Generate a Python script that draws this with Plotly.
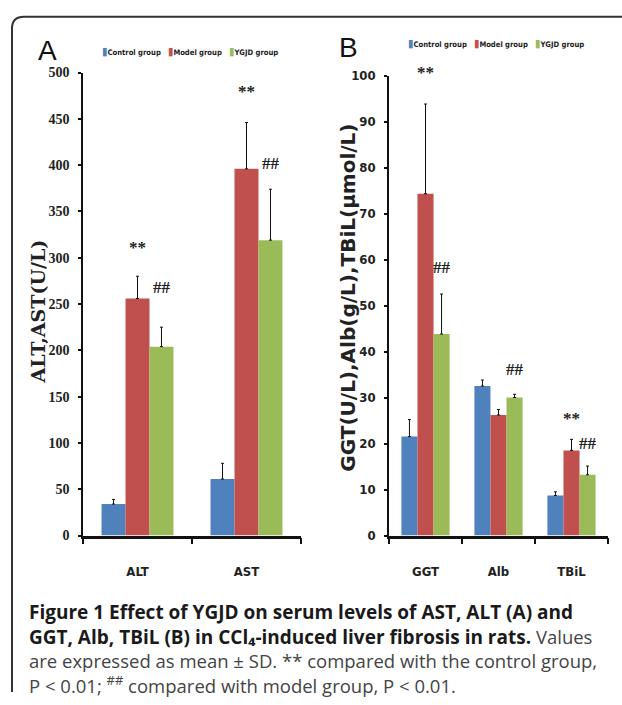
import plotly.graph_objects as go

W, H = 622, 705

# ---------------- data ----------------
groups = ["Control group", "Model group", "YGJD group"]
colors = ["#4F81BD", "#C0504D", "#9BBB59"]

cats_a = ["ALT", "AST"]
vals_a = {
    "Control group": [34, 61],
    "Model group": [256, 396],
    "YGJD group": [204, 319],
}
err_a = {
    "Control group": [5, 17],
    "Model group": [24, 50],
    "YGJD group": [21, 55],
}

cats_b = ["GGT", "Alb", "TBiL"]
vals_b = {
    "Control group": [21.5, 32.5, 8.7],
    "Model group": [74.3, 26.2, 18.5],
    "YGJD group": [43.8, 30.0, 13.2],
}
err_b = {
    "Control group": [3.7, 1.3, 0.8],
    "Model group": [19.5, 1.2, 2.4],
    "YGJD group": [8.7, 0.7, 1.9],
}

ticks_a = list(range(0, 501, 50))
ticks_b = list(range(0, 101, 10))

# significance marks: (panel, category, group, label)
sig_marks = [
    ("a", "ALT", "Model group", "**"),
    ("a", "ALT", "YGJD group", "##"),
    ("a", "AST", "Model group", "**"),
    ("a", "AST", "YGJD group", "##"),
    ("b", "GGT", "Model group", "**"),
    ("b", "GGT", "YGJD group", "##"),
    ("b", "Alb", "YGJD group", "##"),
    ("b", "TBiL", "Model group", "**"),
    ("b", "TBiL", "YGJD group", "##"),
]
# pixel lift of each mark above its error bar (style only)
sig_lift = [29, 40, 31, 26, 32, 27, 25, 21, 23]


def px(x):
    return x / W


def py(y):
    return 1 - y / H


fig = go.Figure()

for g, c in zip(groups, colors):
    fig.add_trace(go.Bar(
        x=cats_a, y=vals_a[g], name=g, marker_color=c, marker_line_width=0,
        error_y=dict(type="data", array=err_a[g], arrayminus=[0] * len(cats_a),
                     symmetric=False, color="#111", thickness=1, width=1.5),
        xaxis="x", yaxis="y", showlegend=False,
    ))
    fig.add_trace(go.Bar(
        x=cats_b, y=vals_b[g], name=g, marker_color=c, marker_line_width=0,
        error_y=dict(type="data", array=err_b[g], arrayminus=[0] * len(cats_b),
                     symmetric=False, color="#111", thickness=1, width=1.5),
        xaxis="x2", yaxis="y2", showlegend=False,
    ))

tick_serif = dict(family="Liberation Serif", size=14, color="#222", weight="bold")
tick_sans = dict(family="DejaVu Sans Condensed, Liberation Sans",
                 size=13, color="#222", weight="bold")

common_x = dict(type="category", showline=True, linecolor="#111", linewidth=2.5,
                ticks="outside", tickson="boundaries", ticklen=6, tickwidth=1.5,
                tickcolor="#111", showgrid=False, zeroline=False,
                ticklabelstandoff=22)
common_y = dict(showline=True, linecolor="#111", linewidth=1.5, ticks="outside",
                ticklen=3, tickwidth=2, tickcolor="#111", showgrid=False,
                zeroline=False, ticklabelstandoff=6)

fig.update_layout(
    width=W, height=H, margin=dict(l=0, r=0, t=0, b=0),
    paper_bgcolor="white", plot_bgcolor="white",
    barmode="group", bargap=0.34, bargroupgap=0,
    xaxis=dict(domain=[px(83), px(301)], anchor="y", tickfont=tick_sans, **common_x),
    yaxis=dict(domain=[py(540), py(67)], anchor="x", range=[0, 500],
               tickvals=ticks_a, tickfont=tick_serif, **common_y),
    xaxis2=dict(domain=[px(389), px(608)], anchor="y2", tickfont=tick_sans, **common_x),
    yaxis2=dict(domain=[py(540), py(70)], anchor="x2", range=[0, 100],
                tickvals=ticks_b, tickfont=tick_sans, **common_y),
)

ann = []
# significance annotations
gi = {g: i for i, g in enumerate(groups)}
for (panel, cat, g, lab), lift in zip(sig_marks, sig_lift):
    if panel == "a":
        cats, vals, errs, xr, yr, bw = cats_a, vals_a, err_a, "x", "y", 24
    else:
        cats, vals, errs, xr, yr, bw = cats_b, vals_b, err_b, "x2", "y2", 16.3
    k = cats.index(cat)
    top = vals[g][k] + errs[g][k]
    ann.append(dict(x=cat, y=top, xref=xr, yref=yr, text=lab, showarrow=False,
                    xshift=(gi[g] - 1) * bw, yshift=lift,
                    xanchor="center", yanchor="middle",
                    font=dict(family="Liberation Serif", size=17, color="#222",
                              weight="bold")))

# panel letters
ann.append(dict(x=px(47), y=py(44), xref="paper", yref="paper", text="A",
                xanchor="center", yanchor="middle", showarrow=False,
                font=dict(family="Liberation Sans", size=28, color="#111")))
ann.append(dict(x=px(349), y=py(41), xref="paper", yref="paper", text="B",
                xanchor="center", yanchor="middle", showarrow=False,
                font=dict(family="Liberation Sans", size=28, color="#111")))

# axis titles
ann.append(dict(x=px(38), y=py(311), xref="paper", yref="paper", text="ALT,AST(U/L)",
                textangle=-90, showarrow=False, xanchor="center", yanchor="middle",
                font=dict(family="DejaVu Serif", size=19, color="#222", weight="bold")))
ann.append(dict(x=px(348), y=py(297), xref="paper", yref="paper",
                text="GGT(U/L),Alb(g/L),TBiL(μmol/L)", textangle=-90, showarrow=False,
                xanchor="center", yanchor="middle",
                font=dict(family="DejaVu Sans", size=20, color="#222", weight="bold")))

# legends (one text line per panel)
leg_font = dict(family="DejaVu Sans Condensed, Liberation Sans",
                size=7.6, color="#222", weight="bold")
sep = "\u00a0\u00a0\u00a0"
leg_text = sep.join(f'<span style="color:{c};font-size:11px">▮</span>{g}'
                    for g, c in zip(groups, colors))
for lx, ly in [(190, 45), (496, 37)]:
    ann.append(dict(x=px(lx), y=py(ly), xref="paper", yref="paper",
                    xanchor="center", yanchor="middle", text=leg_text,
                    showarrow=False, font=leg_font))

# caption (one multi-line text block)
bold_open = '<b><span style="color:#1a1a1a">'
norm_open = '<span style="font-size:18.5px">'
cap_lines = [
    bold_open + 'Figure 1 Effect of YGJD on serum levels of AST, ALT (A) and</span></b>',
    bold_open + 'GGT, Alb, TBiL (B) in CCl\u2084-induced liver fibrosis in rats.</span></b>'
    + norm_open + ' Values</span>',
    norm_open + 'are expressed as mean ± SD. ** compared with the control group,</span>',
    norm_open + 'P < 0.01; <sup>##</sup> compared with model group, P < 0.01.</span>',
]
ann.append(dict(x=px(27), y=py(618 + 1.5 * 24.7), xref="paper", yref="paper",
                xanchor="left", yanchor="middle", align="left",
                text="<br>".join(cap_lines), showarrow=False,
                font=dict(family="Open Sans", size=19, color="#444")))

fig.update_layout(annotations=ann)

# rounded frame (top-left corner)
x0, y0, r = 12, 10, 12
path = (f"M {px(x0)},{py(700)} L {px(x0)},{py(y0 + r)} "
        f"Q {px(x0)},{py(y0)} {px(x0 + r)},{py(y0)} L {px(W)},{py(y0)}")
fig.add_shape(type="path", path=path, xref="paper", yref="paper",
              line=dict(color="#333", width=2))

fig.write_html("out.html")
